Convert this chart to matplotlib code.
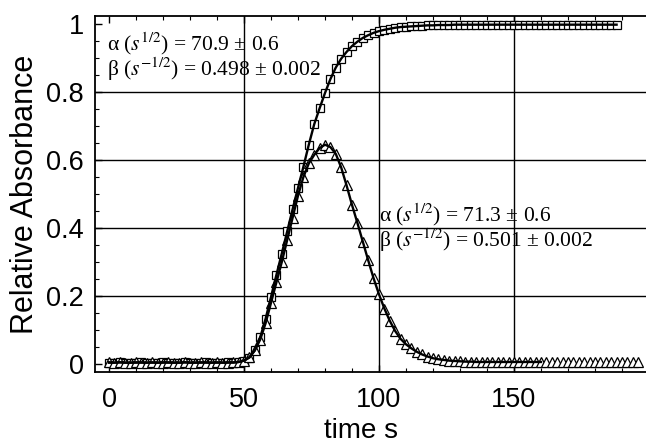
import numpy as np
import matplotlib
matplotlib.use("Agg")
import matplotlib.pyplot as plt
from matplotlib.ticker import MultipleLocator

# ---------------- data ----------------
time_peak = list(range(0, 198, 2))      # s, sampling of triangle series
peak_values = [
    0.005, 0.004, 0.005, 0.004, 0.004, 0.005, 0.004, 0.004, 0.005, 0.004,
    0.004, 0.005, 0.004, 0.004, 0.005, 0.004, 0.004, 0.005, 0.004, 0.004,
    0.005, 0.004, 0.004, 0.005,
    0.006, 0.010, 0.020, 0.040, 0.072, 0.120, 0.180, 0.240, 0.300, 0.365,
    0.430, 0.495, 0.550, 0.590, 0.615, 0.635, 0.645, 0.638, 0.618, 0.578,
    0.525, 0.468, 0.415, 0.360, 0.305, 0.252, 0.205, 0.163, 0.127, 0.097,
    0.074, 0.058, 0.046, 0.036, 0.028, 0.022, 0.017, 0.014, 0.012, 0.010,
    0.009, 0.008, 0.007, 0.007,
    0.006, 0.006, 0.006, 0.006, 0.006, 0.006, 0.006, 0.006, 0.006, 0.006,
    0.006, 0.006, 0.006, 0.006, 0.006, 0.006, 0.006, 0.006, 0.006, 0.006,
    0.006, 0.006, 0.006, 0.006, 0.006, 0.006, 0.006, 0.006, 0.006, 0.006,
    0.006,
]
peak_fit_end = 160  # s, fitted line for the peak drawn up to here

time_sig = list(range(0, 190, 2))       # s, sampling of square series
sig_values = [
    0.004, 0.004, 0.005, 0.004, 0.004, 0.004, 0.005, 0.004, 0.004, 0.004,
    0.005, 0.004, 0.004, 0.004, 0.005, 0.004, 0.004, 0.004, 0.005, 0.004,
    0.004, 0.004, 0.005, 0.004,
    0.006, 0.010, 0.019, 0.040, 0.078, 0.133, 0.197, 0.262, 0.325, 0.390,
    0.455, 0.518, 0.580, 0.645, 0.705, 0.752, 0.797, 0.838, 0.872, 0.898,
    0.918, 0.935, 0.948, 0.959, 0.967, 0.974, 0.979, 0.983, 0.986, 0.989,
    0.991, 0.992, 0.993, 0.994, 0.995, 0.996, 0.996, 0.997, 0.997, 0.997,
    0.998,
    0.998, 0.998, 0.998, 0.998, 0.998, 0.998, 0.998, 0.998, 0.998, 0.998,
    0.998, 0.998, 0.998, 0.998, 0.998, 0.998, 0.998, 0.998, 0.998, 0.998,
    0.998, 0.998, 0.998, 0.998, 0.998, 0.998, 0.998, 0.998, 0.998, 0.998,
]

x_major = [0, 50, 100, 150]
y_major = [0, 0.2, 0.4, 0.6, 0.8, 1]
y_ticklabels = ["0", "0.2", "0.4", "0.6", "0.8", "1"]
x_grid = [50, 100, 150]
y_grid = [0.2, 0.4, 0.6, 0.8]

ann_sig = [r"α ($s^{1/2}$) = 70.9 ± 0.6", r"β ($s^{-1/2}$) = 0.498 ± 0.002"]
ann_peak = [r"α ($s^{1/2}$) = 71.3 ± 0.6", r"β ($s^{-1/2}$) = 0.501 ± 0.002"]

# ---------------- figure ----------------
plt.rcParams["mathtext.fontset"] = "stix"
W, H = 646, 443
fig = plt.figure(figsize=(W / 100, H / 100), dpi=100)
ax = fig.add_axes([95 / W, (H - 372) / H, (W - 95) / W, (372 - 16) / H])

ax.set_xlim(-5.19, 198.9)
ax.set_ylim(-0.0235, 1.0235)

for xv in x_grid:
    ax.axvline(xv, color="black", lw=1.0, zorder=1)
for yv in y_grid:
    ax.axhline(yv, color="black", lw=1.0, zorder=1)

tp = np.array(time_peak)
pv = np.array(peak_values)
ts = np.array(time_sig)
sv = np.array(sig_values)

ax.plot(ts, sv, ls="none", marker="s", ms=6.0, mfc="white", mec="black",
        mew=0.9, zorder=3)
ax.plot(tp, pv, ls="none", marker="^", ms=6.8, mfc="white", mec="black",
        mew=0.9, zorder=3)
ax.plot(ts, sv, color="black", lw=1.7, zorder=4)
mask = tp <= peak_fit_end
ax.plot(tp[mask], pv[mask], color="black", lw=1.7, zorder=4)

ax.set_xticks(x_major)
ax.set_yticks(y_major)
ax.set_yticklabels(y_ticklabels)
ax.xaxis.set_minor_locator(MultipleLocator(10))
ax.yaxis.set_minor_locator(MultipleLocator(0.05))
ax.tick_params(which="both", direction="in", top=True, right=False)
ax.tick_params(which="major", length=5, width=1.0)
ax.tick_params(which="minor", length=3, width=0.8)
ax.tick_params(axis="x", which="major", pad=11)
ax.tick_params(axis="y", which="major", pad=8)
for lab in ax.get_xticklabels() + ax.get_yticklabels():
    lab.set_fontfamily("Liberation Sans")
    lab.set_fontsize(19.5)

for s in ["left", "bottom", "top"]:
    ax.spines[s].set_linewidth(1.3)
ax.spines["right"].set_visible(False)

ax.set_xlabel("time s", fontfamily="Liberation Sans", fontsize=20)
ax.set_ylabel("Relative Absorbance", fontfamily="Liberation Sans", fontsize=22)
ax.xaxis.set_label_coords(0.483, -0.13)
ax.yaxis.set_label_coords(-0.1, 0.5)

fs_ann = 15.5
fig.text(107 / W, (H - 50) / H, ann_sig[0], family="Liberation Serif",
         fontsize=fs_ann, va="baseline", ha="left")
fig.text(107 / W, (H - 76) / H, ann_sig[1], family="Liberation Serif",
         fontsize=fs_ann, va="baseline", ha="left")
fig.text(379 / W, (H - 221) / H, ann_peak[0], family="Liberation Serif",
         fontsize=fs_ann, va="baseline", ha="left")
fig.text(379 / W, (H - 247) / H, ann_peak[1], family="Liberation Serif",
         fontsize=fs_ann, va="baseline", ha="left")

fig.savefig("out.png", dpi=100)
